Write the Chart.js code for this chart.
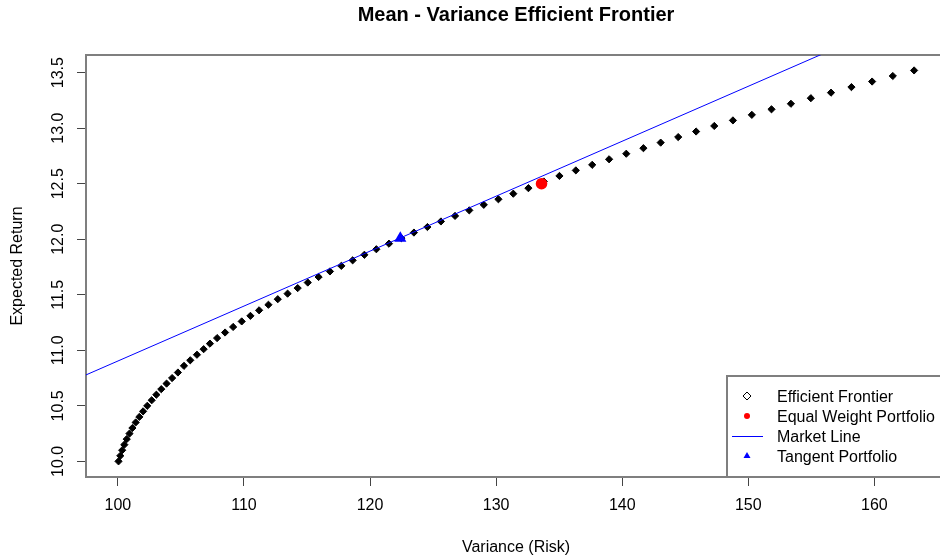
<!DOCTYPE html>
<html>
<head>
<meta charset="utf-8">
<title>Mean - Variance Efficient Frontier</title>
<script src="https://cdn.jsdelivr.net/npm/chart.js@4.4.1/dist/chart.umd.min.js"></script>
<style>
  html, body { margin: 0; padding: 0; background: #fff; overflow: hidden; }
  #frontier { display: block; }
</style>
</head>
<body>
<canvas id="frontier" width="960" height="560"></canvas>
<script>
// efficient frontier (variance, expected return)
const frontierVariance = [
  100.05, 100.19, 100.34, 100.51, 100.70, 100.92, 101.15, 101.41, 101.70, 102.00,
  102.33, 102.68, 103.05, 103.44, 103.86, 104.30, 104.76, 105.24, 105.74, 106.27,
  106.80, 107.30, 107.87, 108.50, 109.14, 109.82, 110.51, 111.20, 111.94, 112.68,
  113.46, 114.26, 115.06, 115.92, 116.82, 117.72, 118.62, 119.55, 120.50, 121.50,
  122.48, 123.48, 124.55, 125.62, 126.74, 127.87, 129.02, 130.18, 131.36, 132.56,
  133.78, 135.02, 136.32, 137.62, 138.96, 140.32, 141.68, 143.05, 144.44, 145.86,
  147.30, 148.78, 150.28, 151.84, 153.38, 154.96, 156.56, 158.18, 159.82, 161.46,
  163.15
];
const frontierReturn = [
  10.00, 10.05, 10.10, 10.15, 10.20, 10.25, 10.30, 10.35, 10.40, 10.45,
  10.50, 10.55, 10.60, 10.65, 10.70, 10.75, 10.80, 10.86, 10.91, 10.96,
  11.01, 11.06, 11.11, 11.16, 11.21, 11.26, 11.31, 11.36, 11.41, 11.46,
  11.51, 11.56, 11.61, 11.66, 11.71, 11.76, 11.81, 11.86, 11.91, 11.96,
  12.01, 12.06, 12.11, 12.16, 12.21, 12.26, 12.31, 12.36, 12.41, 12.46,
  12.52, 12.57, 12.62, 12.67, 12.72, 12.77, 12.82, 12.87, 12.92, 12.97,
  13.02, 13.07, 13.12, 13.17, 13.22, 13.27, 13.32, 13.37, 13.42, 13.47,
  13.52
];

const equalWeightVariance = [133.6];
const equalWeightReturn = [12.50];

const tangentVariance = [122.4];
const tangentReturn = [12.01];

const marketLineVariance = [95, 170];
const marketLineReturn = [10.656, 14.367];

const xTickValues = [100, 110, 120, 130, 140, 150, 160];
const xTickLabels = ['100', '110', '120', '130', '140', '150', '160'];
const yTickValues = [10.0, 10.5, 11.0, 11.5, 12.0, 12.5, 13.0, 13.5];
const yTickLabels = ['10.0', '10.5', '11.0', '11.5', '12.0', '12.5', '13.0', '13.5'];

const legendLabels = ['Efficient Frontier', 'Equal Weight Portfolio', 'Market Line', 'Tangent Portfolio'];

const chartTitle = 'Mean - Variance Efficient Frontier';
const xTitle = 'Variance (Risk)';
const yTitle = 'Expected Return';

const FONT = "'Liberation Sans', Arial, sans-serif";
const FRAME = '#7f7f7f';

const pts = (xs, ys) => xs.map((x, i) => ({ x: x, y: ys[i] }));

// legend box in the bottom right corner of the plot, like R's legend("bottomright")
const legendBox = {
  id: 'legendBox',
  afterDatasetsDraw(chart) {
    const ctx = chart.ctx;
    const a = chart.chartArea;
    const left = a.right - 219;
    const top = a.bottom - 101;
    ctx.save();
    ctx.fillStyle = '#fff';
    ctx.fillRect(left, top, a.right - left, a.bottom - top);
    ctx.strokeStyle = FRAME;
    ctx.lineWidth = 2;
    ctx.strokeRect(left, top, a.right - left + 4, a.bottom - top);

    ctx.font = '16px ' + FONT;
    ctx.textBaseline = 'middle';
    ctx.textAlign = 'left';
    legendLabels.forEach((lab, i) => {
      const y = top + 20 + i * 20;
      const sx = left + 20;
      if (i === 0) {
        ctx.beginPath();
        ctx.moveTo(sx, y - 4); ctx.lineTo(sx + 4, y); ctx.lineTo(sx, y + 4); ctx.lineTo(sx - 4, y);
        ctx.closePath();
        ctx.strokeStyle = '#000'; ctx.lineWidth = 1;
        ctx.stroke();
      } else if (i === 1) {
        ctx.beginPath();
        ctx.arc(sx, y, 3, 0, Math.PI * 2);
        ctx.fillStyle = '#ff0000';
        ctx.fill();
      } else if (i === 2) {
        ctx.beginPath();
        ctx.moveTo(left + 5, y + 0.5); ctx.lineTo(left + 36, y + 0.5);
        ctx.strokeStyle = '#0000ff'; ctx.lineWidth = 1;
        ctx.stroke();
      } else {
        ctx.beginPath();
        ctx.moveTo(sx, y - 4); ctx.lineTo(sx + 3.5, y + 2); ctx.lineTo(sx - 3.5, y + 2);
        ctx.closePath();
        ctx.fillStyle = '#0000ff';
        ctx.fill();
      }
      ctx.fillStyle = '#000';
      ctx.fillText(lab, left + 50, y + 1.5);
    });
    ctx.restore();
  }
};

const ctx = document.getElementById('frontier').getContext('2d');
new Chart(ctx, {
  type: 'scatter',
  data: {
    datasets: [
      {
        label: 'Tangent Portfolio',
        data: pts(tangentVariance, tangentReturn),
        pointStyle: 'triangle',
        pointRadius: 7,
        backgroundColor: '#0000ff',
        borderColor: '#0000ff',
        borderWidth: 0,
        order: 1
      },
      {
        label: 'Equal Weight Portfolio',
        data: pts(equalWeightVariance, equalWeightReturn),
        pointStyle: 'circle',
        pointRadius: 5.8,
        backgroundColor: '#ff0000',
        borderColor: '#ff0000',
        borderWidth: 0,
        order: 2
      },
      {
        label: 'Market Line',
        type: 'line',
        data: pts(marketLineVariance, marketLineReturn),
        showLine: true,
        borderColor: '#0000ff',
        borderWidth: 1,
        pointRadius: 0,
        fill: false,
        order: 3
      },
      {
        label: 'Efficient Frontier',
        data: pts(frontierVariance, frontierReturn),
        pointStyle: 'rectRot',
        pointRadius: 3.6,
        backgroundColor: '#000',
        borderColor: '#000',
        borderWidth: 1,
        order: 4
      }
    ]
  },
  options: {
    responsive: false,
    animation: false,
    events: [],
    layout: { padding: { left: 0, top: 0, bottom: 0, right: 14 } },
    font: { family: FONT },
    plugins: {
      legend: { display: false },
      tooltip: { enabled: false }
    },
    scales: {
      x: {
        type: 'linear',
        position: 'bottom',
        min: 97.47,
        max: 165.68,
        afterBuildTicks: s => { s.ticks = xTickValues.map(v => ({ value: v })); },
        afterFit: s => { s.height = 83; },
        grid: { drawOnChartArea: false, drawTicks: true, tickLength: 9, color: '#444', lineWidth: 1 },
        border: { display: true, color: FRAME, width: 2 },
        ticks: {
          padding: 10, color: '#000', maxRotation: 0,
          font: { family: FONT, size: 16 },
          callback: (v, i) => xTickLabels[i]
        },
        title: {
          display: true, text: xTitle, color: '#000',
          font: { family: FONT, size: 16 },
          padding: { top: 0, bottom: 3 }
        }
      },
      xTop: {
        type: 'linear',
        position: 'top',
        min: 97.47,
        max: 165.68,
        afterFit: s => { s.height = 55; },
        grid: { display: false, drawTicks: false },
        border: { display: true, color: FRAME, width: 2 },
        ticks: { display: false },
        title: {
          display: true, text: chartTitle, color: '#000',
          font: { family: FONT, size: 20, weight: 'bold' },
          padding: { top: 3.5, bottom: 0 }
        }
      },
      y: {
        type: 'linear',
        position: 'left',
        min: 9.859,
        max: 13.659,
        afterBuildTicks: s => { s.ticks = yTickValues.map(v => ({ value: v })); },
        afterFit: s => { s.width = 86; },
        grid: { drawOnChartArea: false, drawTicks: true, tickLength: 9, color: '#444', lineWidth: 1 },
        border: { display: true, color: FRAME, width: 2 },
        ticks: {
          padding: 2.5, color: '#000',
          minRotation: 90, maxRotation: 90, crossAlign: 'center',
          font: { family: FONT, size: 16 },
          callback: (v, i) => yTickLabels[i]
        },
        title: {
          display: true, text: yTitle, color: '#000',
          font: { family: FONT, size: 16 },
          padding: { top: 8, bottom: 0 }
        }
      }
    }
  },
  plugins: [legendBox]
});
</script>
</body>
</html>
